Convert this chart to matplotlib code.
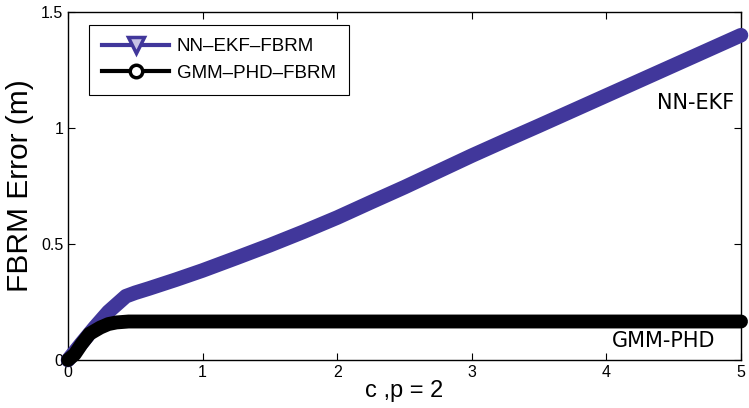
import matplotlib
matplotlib.use("Agg")
import matplotlib.pyplot as plt
from matplotlib.lines import Line2D

# data
x_nn = [0, 0.1, 0.2, 0.3, 0.43, 0.5, 0.6, 0.7, 0.8, 0.9, 1.0, 1.25, 1.5, 1.75,
        2.0, 2.25, 2.5, 2.75, 3.0, 3.25, 3.5, 3.75, 4.0, 4.25, 4.5, 4.75, 5.0]
y_nn = [0, 0.072, 0.142, 0.208, 0.275, 0.29, 0.308, 0.327, 0.346, 0.366, 0.386,
        0.44, 0.495, 0.553, 0.614, 0.68, 0.745, 0.813, 0.881, 0.946, 1.01,
        1.075, 1.14, 1.205, 1.27, 1.335, 1.40]

x_gmm = [0, 0.05, 0.1, 0.16, 0.24, 0.3, 0.36, 0.45, 1.0, 2.0, 3.0, 4.0, 5.0]
y_gmm = [0, 0.025, 0.068, 0.113, 0.14, 0.155, 0.162, 0.166, 0.166, 0.166,
         0.166, 0.166, 0.166]

labels = ["NN\u2013EKF\u2013FBRM", "GMM\u2013PHD\u2013FBRM"]
blue = "#41379b"

plt.rcParams["font.family"] = ["Liberation Sans", "DejaVu Sans"]

fig = plt.figure(figsize=(7.49, 4.08), dpi=100)
ax = fig.add_axes([0.0908, 0.1176, 0.8985, 0.853])

ax.plot(x_nn, y_nn, color=blue, lw=10.5, marker="v", ms=6, mfc=blue, mec=blue,
        solid_capstyle="round", solid_joinstyle="round", clip_on=False, zorder=3)
ax.plot(x_gmm, y_gmm, color="black", lw=10, marker="o", ms=6, mfc="black", mec="black",
        solid_capstyle="round", solid_joinstyle="round", clip_on=False, zorder=4)

ax.set_xlim(0, 5)
ax.set_ylim(0, 1.5)
ax.set_xticks([0, 1, 2, 3, 4, 5])
ax.set_yticks([0, 0.5, 1, 1.5])
ax.set_yticklabels(["0", "0.5", "1", "1.5"])
ax.tick_params(direction="in", top=True, right=True, labelsize=11.5, length=5, width=0.8)
for s in ax.spines.values():
    s.set_linewidth(1.0)

ax.set_ylabel("FBRM Error (m)", fontsize=21.5, labelpad=5)
ax.set_xlabel("c ,p = 2", fontsize=17, labelpad=0)

ax.text(4.95, 1.108, "NN-EKF", fontsize=15, family="DejaVu Sans", ha="right", va="center")
ax.text(4.81, 0.082, "GMM-PHD", fontsize=15, family="DejaVu Sans", ha="right", va="center")

handles = [
    Line2D([], [], color=blue, lw=3, marker="v", ms=11, mfc="#c8c4e6", mec=blue, mew=2.5),
    Line2D([], [], color="black", lw=3, marker="o", ms=9, mfc="white", mec="black", mew=2.5),
]
leg = ax.legend(handles, labels, loc="upper left", bbox_to_anchor=(0.031, 0.963),
                fontsize=13.5, handlelength=3.6, handletextpad=0.4, borderpad=0.7,
                labelspacing=0.5, fancybox=False, framealpha=1, edgecolor="black",
                borderaxespad=0)
leg.get_frame().set_linewidth(0.8)

fig.savefig("out.png", dpi=100)
